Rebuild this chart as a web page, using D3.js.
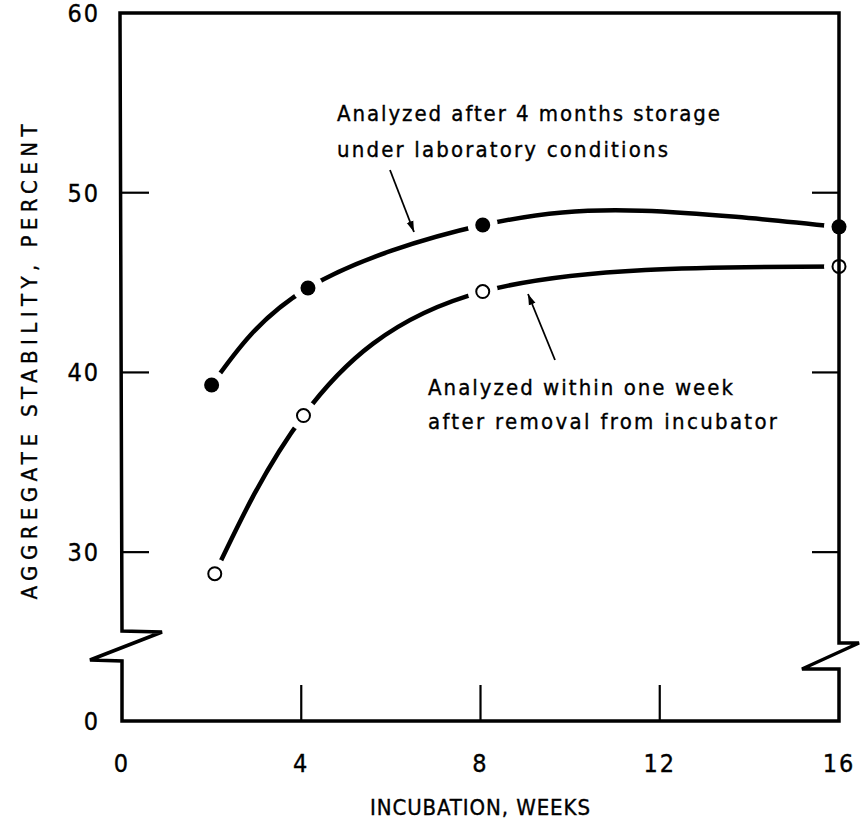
<!DOCTYPE html>
<html>
<head>
<meta charset="utf-8">
<script src="https://cdn.jsdelivr.net/npm/d3@7"></script>
<style>
  body { margin: 0; background: #fff; }
  text { font-family: "DejaVu Sans Condensed", "DejaVu Sans", sans-serif; fill: #000; stroke: #000; stroke-width: 0.35; }
</style>
</head>
<body>
<script>
const weeksStored = [2, 4.15, 8.05, 16];
const stabilityStored = [39.3, 44.7, 48.2, 48.1];
const weeksFresh = [2.07, 4.05, 8.05, 16];
const stabilityFresh = [28.8, 37.6, 44.5, 45.9];

// the hand-drawn smooth curves; the upper one bulges to ~49 near week 11.6
const curveStoredWeeks = [2, 4.15, 8.05, 11.6, 16];
const curveStoredValues = [39.3, 44.7, 48.2, 49.0, 48.1];
const curveFreshWeeks = [2.07, 4.05, 8.05, 16];
const curveFreshValues = [28.8, 37.6, 44.5, 45.9];

const xTicks = [0, 4, 8, 12, 16];
const yTicks = [0, 30, 40, 50, 60];
const yInnerTicks = [30, 40, 50];
const xInnerTicks = [4, 8, 12];

const dims = { width: 860, height: 825 };

const svg = d3.select("body").append("svg")
    .attr("width", dims.width)
    .attr("height", dims.height)
    .style("background", "#fff");

const x = d3.scaleLinear().domain([0, 16]).range([122, 839]);
// broken axis: 0 sits just under the break
const y = d3.scaleLinear().domain([0, 25, 60]).range([721, 642, 13]);

const pair = (ws, vs) => ws.map((w, i) => ({ w, v: vs[i] }));
const stored = pair(weeksStored, stabilityStored);
const fresh = pair(weeksFresh, stabilityFresh);
const curves = [pair(curveStoredWeeks, curveStoredValues), pair(curveFreshWeeks, curveFreshValues)];

const line = d3.line()
    .x(d => x(d.w))
    .y(d => y(d.v))
    .curve(d3.curveNatural);

// curves
svg.selectAll(".curve")
  .data(curves)
  .enter().append("path")
    .attr("class", "curve")
    .attr("d", line)
    .attr("fill", "none")
    .attr("stroke", "#000")
    .attr("stroke-width", 4.5);

// white gaps round the points
svg.selectAll(".halo")
  .data(stored.concat(fresh))
  .enter().append("circle")
    .attr("cx", d => x(d.w))
    .attr("cy", d => y(d.v))
    .attr("r", 15)
    .attr("fill", "#fff");

// markers
svg.selectAll(".dotStored")
  .data(stored)
  .enter().append("circle")
    .attr("cx", d => x(d.w))
    .attr("cy", d => y(d.v))
    .attr("r", 7.5)
    .attr("fill", "#000");

svg.selectAll(".dotFresh")
  .data(fresh)
  .enter().append("circle")
    .attr("cx", d => x(d.w))
    .attr("cy", d => y(d.v))
    .attr("r", 6.5)
    .attr("fill", "none")
    .attr("stroke", "#000")
    .attr("stroke-width", 2);

// frame with the break marks
const x0 = x(0), x1 = x(16), yTop = y(60), yBot = y(0), brk = y(25);
const frame = d3.path();
frame.moveTo(x0 - 2, yTop);
frame.lineTo(x1, yTop);
frame.lineTo(x1, brk + 1);
frame.lineTo(x1 + 20, brk + 1);
frame.lineTo(x1 - 37, brk + 27);
frame.lineTo(x1, brk + 27);
frame.lineTo(x1, yBot);
frame.lineTo(x0, yBot);
frame.lineTo(x0, brk + 19);
frame.lineTo(x0 - 32, brk + 18);
frame.lineTo(x0 + 40, brk - 10);
frame.lineTo(x0, brk - 11);
frame.closePath();

svg.append("path")
    .attr("d", frame.toString())
    .attr("fill", "none")
    .attr("stroke", "#000")
    .attr("stroke-width", 3.5);

// inner ticks
svg.selectAll(".ytickL")
  .data(yInnerTicks)
  .enter().append("line")
    .attr("x1", x0).attr("x2", x0 + 27)
    .attr("y1", d => y(d)).attr("y2", d => y(d))
    .attr("stroke", "#000").attr("stroke-width", 2.2);

svg.selectAll(".ytickR")
  .data(yInnerTicks)
  .enter().append("line")
    .attr("x1", x1).attr("x2", x1 - 27)
    .attr("y1", d => y(d)).attr("y2", d => y(d))
    .attr("stroke", "#000").attr("stroke-width", 2.2);

svg.selectAll(".xtick")
  .data(xInnerTicks)
  .enter().append("line")
    .attr("x1", d => x(d)).attr("x2", d => x(d))
    .attr("y1", yBot).attr("y2", yBot - 36)
    .attr("stroke", "#000").attr("stroke-width", 2.2);

// tick labels
svg.selectAll(".ylab")
  .data(yTicks)
  .enter().append("text")
    .attr("x", 100)
    .attr("y", d => y(d) + 9)
    .attr("text-anchor", "end")
    .attr("font-size", 25)
    .attr("letter-spacing", 2)
    .text(d => d);

svg.selectAll(".xlab")
  .data(xTicks)
  .enter().append("text")
    .attr("x", d => x(d))
    .attr("y", 772)
    .attr("text-anchor", "middle")
    .attr("font-size", 25)
    .attr("letter-spacing", 2)
    .text(d => d);

// axis titles
svg.append("text")
    .attr("x", 480)
    .attr("y", 815)
    .attr("text-anchor", "middle")
    .attr("font-size", 22)
    .attr("textLength", 220)
    .attr("lengthAdjust", "spacing")
    .text("INCUBATION, WEEKS");

svg.append("text")
    .attr("transform", "translate(37,362) rotate(-90)")
    .attr("text-anchor", "middle")
    .attr("font-size", 22)
    .attr("textLength", 475)
    .attr("lengthAdjust", "spacing")
    .text("AGGREGATE STABILITY, PERCENT");

// annotations
const notes = [
  { t: "Analyzed after 4 months storage", x: 337, y: 121, len: 383 },
  { t: "under laboratory conditions", x: 337, y: 157, len: 331 },
  { t: "Analyzed within one week", x: 428, y: 395, len: 305 },
  { t: "after removal from incubator", x: 428, y: 429, len: 349 }
];
svg.selectAll(".note")
  .data(notes)
  .enter().append("text")
    .attr("x", d => d.x)
    .attr("y", d => d.y)
    .attr("font-size", 22)
    .attr("textLength", d => d.len)
    .attr("lengthAdjust", "spacing")
    .text(d => d.t);

svg.append("defs").append("marker")
    .attr("id", "head")
    .attr("viewBox", "0 0 10 10")
    .attr("refX", 10).attr("refY", 5)
    .attr("markerWidth", 11).attr("markerHeight", 11)
    .attr("markerUnits", "userSpaceOnUse")
    .attr("orient", "auto")
  .append("path")
    .attr("d", "M0,1.8 L10,5 L0,8.2 Z")
    .attr("fill", "#000");

const arrows = [
  { x1: 390, y1: 170, x2: 414, y2: 232 },
  { x1: 555, y1: 360, x2: 528, y2: 294 }
];
svg.selectAll(".arrow")
  .data(arrows)
  .enter().append("line")
    .attr("x1", d => d.x1).attr("y1", d => d.y1)
    .attr("x2", d => d.x2).attr("y2", d => d.y2)
    .attr("stroke", "#000")
    .attr("stroke-width", 1.8)
    .attr("marker-end", "url(#head)");
</script>
</body>
</html>
